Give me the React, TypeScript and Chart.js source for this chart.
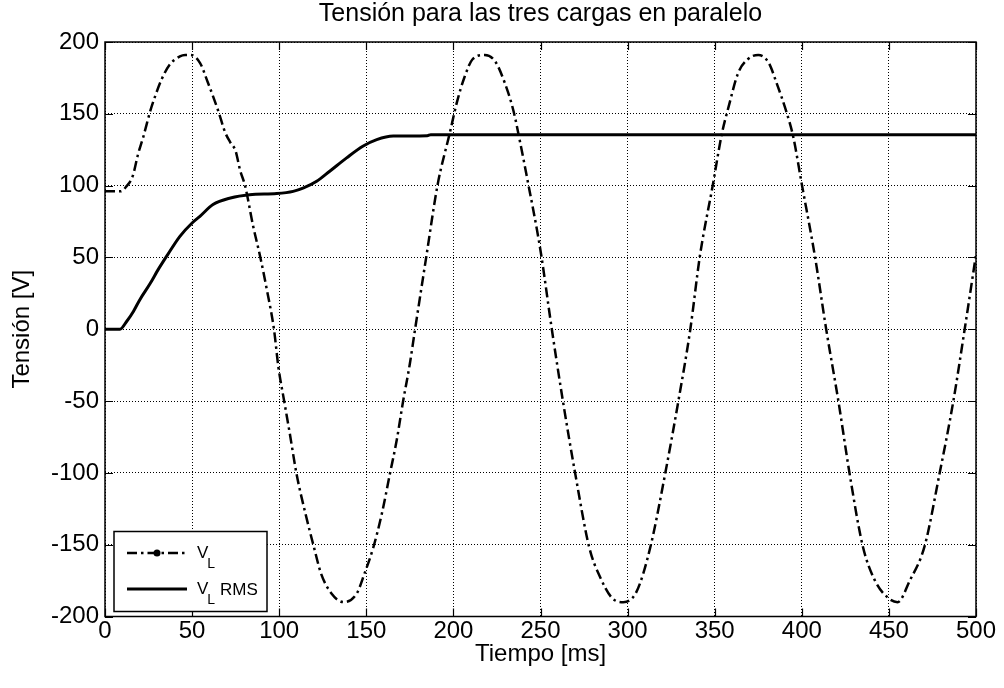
import React, { useEffect, useRef } from "react";
import { Chart, registerables } from "chart.js";

Chart.register(...registerables);

const titleText = "Tensión para las tres cargas en paralelo";
const xAxisLabel = "Tiempo [ms]";
const yAxisLabel = "Tensión [V]";

const xMin = 0;
const xMax = 500;
const xStep = 50;
const yMin = -200;
const yMax = 200;
const yStep = 50;

// V_L (dash-dot)
const vlTime = [
  0, 5, 9, 12, 16, 19, 22, 26, 29, 32.5, 37, 43, 46, 49, 54.5, 59, 65, 69, 72, 75,
  77.5, 80.5, 85, 89, 93, 97, 99.5, 103, 106, 110, 115, 120, 124, 130, 137, 144.5,
  149, 154, 159, 163.5, 167.5, 171, 175, 178, 184.5, 191, 198, 202, 206.5, 211, 218,
  224, 229.5, 234.5, 238, 243, 248, 250.5, 256.5, 263, 270, 278, 284, 291, 297.5,
  305, 313, 321.5, 329, 336, 341.5, 349, 354, 358, 363.5, 369, 375, 381, 385.5, 391,
  395, 400, 407.5, 414, 421, 427.5, 435, 442, 449.5, 455, 462, 470.5, 479, 487,
  493.5, 500,
];
const vlValue = [
  96, 96, 96, 99, 107, 122, 134, 152, 163, 174, 184, 190, 191, 191, 185.5, 172, 152,
  137, 130, 124, 111, 99.5, 72, 51, 27, 0, -26, -51, -72, -101, -128, -152, -170, -184,
  -190, -184, -170, -152, -128, -101, -77, -51, -24, 0, 51, 101, 137, 158, 176, 188,
  191, 186.5, 171.5, 152, 132, 101, 69, 51, 0, -51, -101, -152, -172, -187, -190,
  -183, -152, -101, -51, 0, 51, 101, 135.5, 155, 178.5, 188, 191, 185.5, 171.5, 152,
  134.5, 101, 51, 0, -50, -101, -151, -175, -187, -190, -175, -151, -101, -50, 0, 52,
];

// V_L RMS (solid)
const rmsTime = [
  0, 8.6, 12.4, 16.3, 20, 26, 30.5, 36, 43, 50, 54.5, 62, 72, 83, 98.6, 108, 114,
  121.5, 129, 138.7, 148, 156, 165.5, 185, 187, 500,
];
const rmsValue = [
  0, 0, 5.4, 12.4, 20.6, 32, 41.5, 52, 64.7, 74, 78.6, 86.8, 91.4, 93.7, 94.5, 96,
  98.4, 103, 110, 119.3, 127.4, 132, 134.5, 134.8, 135.5, 135.5,
];

const legendMain = ["V", "V"];
const legendSub = ["L", "L"];
const legendRest = ["", "RMS"];

const FONT = "'Liberation Sans', Arial, Helvetica, sans-serif";
const VL_DASH = [10, 4, 2.5, 4];

const decorPlugin = {
  id: "decor",
  afterDraw(chart: any) {
    const { ctx, chartArea: a, scales } = chart;
    ctx.save();
    ctx.fillStyle = "#000";
    ctx.strokeStyle = "#000";
    // title
    ctx.font = `25px ${FONT}`;
    ctx.textAlign = "center";
    ctx.textBaseline = "middle";
    ctx.fillText(titleText, (a.left + a.right) / 2, a.top - 28);

    // axes box
    ctx.setLineDash([]);
    ctx.lineWidth = 1.5;
    ctx.strokeRect(a.left, a.top, a.right - a.left, a.bottom - a.top);

    // inward ticks
    const tl = 8;
    ctx.lineWidth = 1.2;
    ctx.beginPath();
    scales.x.ticks.forEach((t: any) => {
      const px = Math.round(scales.x.getPixelForValue(t.value)) + 0.5;
      ctx.moveTo(px, a.bottom);
      ctx.lineTo(px, a.bottom - tl);
      ctx.moveTo(px, a.top);
      ctx.lineTo(px, a.top + tl);
    });
    scales.y.ticks.forEach((t: any) => {
      const py = Math.round(scales.y.getPixelForValue(t.value)) + 0.5;
      ctx.moveTo(a.left, py);
      ctx.lineTo(a.left + tl, py);
      ctx.moveTo(a.right, py);
      ctx.lineTo(a.right - tl, py);
    });
    ctx.stroke();

    // legend
    const lx = a.left + 9;
    const ly = a.bottom - 85;
    const lw = 153;
    const lh = 80;
    ctx.fillStyle = "#fff";
    ctx.fillRect(lx, ly, lw, lh);
    ctx.lineWidth = 1.5;
    ctx.strokeRect(lx, ly, lw, lh);
    const rows = [ly + 21.5, ly + 57.5];
    rows.forEach((ry, i) => {
      ctx.beginPath();
      ctx.lineWidth = i === 0 ? 2.5 : 3;
      ctx.setLineDash(i === 0 ? VL_DASH : []);
      ctx.moveTo(lx + 13, ry);
      ctx.lineTo(lx + 73, ry);
      ctx.stroke();
      ctx.setLineDash([]);
      if (i === 0) {
        ctx.beginPath();
        ctx.fillStyle = "#000";
        ctx.arc(lx + 43, ry, 3.5, 0, Math.PI * 2);
        ctx.fill();
      }
      ctx.fillStyle = "#000";
      ctx.textAlign = "left";
      ctx.textBaseline = "alphabetic";
      ctx.font = `17px ${FONT}`;
      ctx.fillText(legendMain[i], lx + 83, ry + 5);
      const vw = ctx.measureText(legendMain[i]).width;
      ctx.font = `14px ${FONT}`;
      ctx.fillText(legendSub[i], lx + 83 + vw - 1, ry + 15);
      if (legendRest[i]) {
        ctx.font = `17px ${FONT}`;
        ctx.fillText(legendRest[i], lx + 106, ry + 6);
      }
    });
    ctx.restore();
  },
};

export default function App() {
  const canvasRef = useRef<HTMLCanvasElement | null>(null);

  useEffect(() => {
    if (!canvasRef.current) return;
    const chart = new Chart(canvasRef.current, {
      type: "line",
      data: {
        datasets: [
          {
            label: "V_L",
            data: vlTime.map((t, i) => ({ x: t, y: vlValue[i] })),
            borderColor: "#000",
            borderWidth: 2.5,
            borderDash: VL_DASH,
            pointRadius: 0,
            fill: false,
            cubicInterpolationMode: "monotone",
          },
          {
            label: "V_L RMS",
            data: rmsTime.map((t, i) => ({ x: t, y: rmsValue[i] })),
            borderColor: "#000",
            borderWidth: 3,
            pointRadius: 0,
            fill: false,
            cubicInterpolationMode: "monotone",
          },
        ],
      },
      options: {
        animation: false,
        responsive: false,
        maintainAspectRatio: false,
        layout: { padding: { top: 42, right: 28, left: 0, bottom: 0 } },
        plugins: {
          legend: { display: false },
          title: { display: false },
          tooltip: { enabled: false },
        },
        scales: {
          x: {
            type: "linear",
            min: xMin,
            max: xMax,
            ticks: {
              stepSize: xStep,
              color: "#000",
              font: { family: FONT, size: 24 },
              padding: 0,
              autoSkip: false,
              maxRotation: 0,
            },
            grid: { color: "#000", lineWidth: 1, drawTicks: false },
            border: { display: false, dash: [1, 2] },
            title: {
              display: true,
              text: xAxisLabel,
              color: "#000",
              font: { family: FONT, size: 24 },
              padding: { top: 0, bottom: 19 },
            },
            afterFit(scale: any) {
              scale.height = 71.5;
            },
          },
          y: {
            type: "linear",
            min: yMin,
            max: yMax,
            ticks: {
              stepSize: yStep,
              color: "#000",
              font: { family: FONT, size: 24 },
              padding: 6,
            },
            grid: { color: "#000", lineWidth: 1, drawTicks: false },
            border: { display: false, dash: [1, 2] },
            title: {
              display: true,
              text: yAxisLabel,
              color: "#000",
              font: { family: FONT, size: 24 },
              padding: { top: 8, bottom: 0 },
            },
            afterFit(scale: any) {
              scale.width = 105;
            },
          },
        },
      },
      plugins: [decorPlugin],
    } as any);
    return () => chart.destroy();
  }, []);

  return (
    <div style={{ position: "absolute", left: 0, top: 0, width: 1004, height: 688, background: "#fff" }}>
      <canvas ref={canvasRef} width={1004} height={688} style={{ display: "block" }} />
    </div>
  );
}
